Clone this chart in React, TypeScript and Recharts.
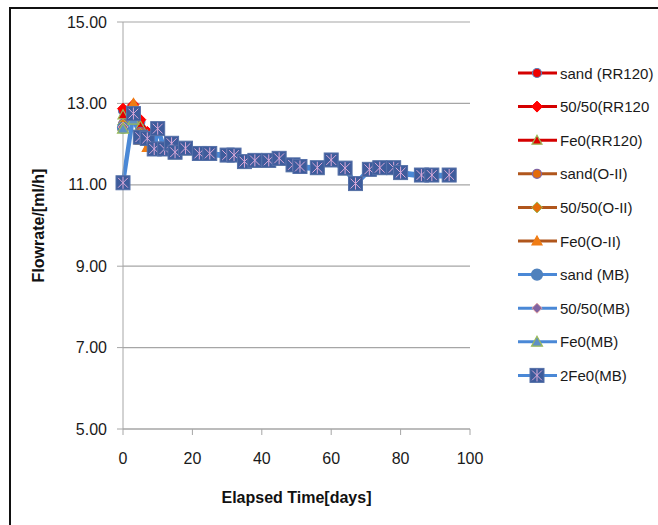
import React from 'react';
import { LineChart, Line, XAxis, YAxis, CartesianGrid, Legend } from 'recharts';

// elapsed time of each measurement
const DAYS = [0, 3, 5, 7, 9, 10, 12, 14, 15, 18, 22, 25, 30, 32, 35, 38, 42, 45, 49, 51, 56, 60, 64, 67, 71, 74, 78, 80, 86, 89, 94];

// flowrate [ml/h] per column
const SAND_RR120 = [12.82, 12.92, 12.55, 12.28, 11.90, 12.36, 11.88, 12.00, 11.80, 11.89, 11.76, 11.76, 11.72, 11.72, 11.56, 11.60, 11.59, 11.64, 11.48, 11.45, 11.41, 11.60, 11.40, 11.03, 11.37, 11.41, 11.41, 11.30, 11.24, 11.24, 11.25];
const MIX_RR120 = [12.87, 12.97, 12.60, 12.30, 11.90, 12.37, 11.88, 12.01, 11.80, 11.90, 11.77, 11.76, 11.73, 11.72, 11.57, 11.60, 11.60, 11.64, 11.49, 11.45, 11.42, 11.60, 11.41, 11.03, 11.38, 11.42, 11.41, 11.30, 11.24, 11.24, 11.26];
const FE_RR120 = [12.72, 12.90, 12.45, 12.22, 11.88, 12.35, 11.87, 12.00, 11.79, 11.88, 11.76, 11.75, 11.72, 11.71, 11.56, 11.59, 11.59, 11.63, 11.48, 11.44, 11.41, 11.59, 11.40, 11.02, 11.37, 11.41, 11.40, 11.29, 11.23, 11.23, 11.24];
const SAND_OII = [12.50, 12.85, 12.30, 12.18, 11.88, 12.36, 11.88, 12.01, 11.80, 11.89, 11.77, 11.76, 11.72, 11.72, 11.57, 11.60, 11.60, 11.64, 11.49, 11.45, 11.42, 11.61, 11.41, 11.03, 11.38, 11.42, 11.42, 11.30, 11.24, 11.24, 11.24];
const MIX_OII = [12.48, 12.88, 12.25, 12.15, 11.87, 12.37, 11.88, 12.01, 11.80, 11.89, 11.77, 11.76, 11.72, 11.72, 11.57, 11.60, 11.60, 11.64, 11.49, 11.45, 11.42, 11.61, 11.41, 11.03, 11.38, 11.42, 11.42, 11.30, 11.24, 11.24, 11.24];
const FE_OII = [12.45, 13.00, 12.10, 11.92, 11.86, 12.36, 11.87, 12.00, 11.79, 11.88, 11.76, 11.75, 11.72, 11.71, 11.56, 11.59, 11.59, 11.63, 11.48, 11.44, 11.41, 11.60, 11.40, 11.02, 11.37, 11.41, 11.41, 11.29, 11.23, 11.23, 11.23];
const SAND_MB = [12.40, 12.62, 12.17, 12.14, 11.88, 12.38, 11.88, 12.02, 11.80, 11.90, 11.77, 11.77, 11.73, 11.73, 11.57, 11.60, 11.60, 11.65, 11.49, 11.45, 11.42, 11.61, 11.41, 11.03, 11.38, 11.42, 11.42, 11.30, 11.24, 11.24, 11.24];
const MIX_MB = [12.42, 12.65, 12.16, 12.13, 11.87, 12.37, 11.87, 12.01, 11.79, 11.89, 11.76, 11.76, 11.72, 11.72, 11.56, 11.59, 11.59, 11.64, 11.48, 11.44, 11.41, 11.60, 11.40, 11.02, 11.37, 11.41, 11.41, 11.29, 11.23, 11.23, 11.23];
const FE_MB = [12.38, 12.60, 12.12, 12.09, 11.83, 12.33, 11.83, 11.97, 11.75, 11.85, 11.72, 11.72, 11.68, 11.68, 11.52, 11.55, 11.55, 11.60, 11.44, 11.40, 11.37, 11.56, 11.36, 10.98, 11.33, 11.37, 11.37, 11.25, 11.19, 11.19, 11.19];
const FE2_MB = [11.05, 12.75, 12.17, 12.14, 11.88, 12.38, 11.88, 12.02, 11.80, 11.90, 11.77, 11.77, 11.73, 11.73, 11.57, 11.60, 11.60, 11.65, 11.49, 11.45, 11.42, 11.61, 11.41, 11.03, 11.38, 11.42, 11.42, 11.30, 11.24, 11.24, 11.24];

const X_TICKS = [0, 20, 40, 60, 80, 100];
const Y_TICKS = [5, 7, 9, 11, 13, 15];

const RED = '#d40000';
const BROWN = '#b0561c';
const BLUE = '#4a88d6';

type Shape = 'circle' | 'diamond' | 'triangle' | 'starSquare';

const SERIES: { key: string; name: string; values: number[]; line: string; width: number; shape: Shape; fill: string; stroke: string; size: number }[] = [
  { key: 's0', name: 'sand (RR120)', values: SAND_RR120, line: RED, width: 3, shape: 'circle', fill: '#ee0000', stroke: '#5b7fb8', size: 9 },
  { key: 's1', name: '50/50(RR120', values: MIX_RR120, line: RED, width: 3, shape: 'diamond', fill: '#ff0000', stroke: '#ff0000', size: 11 },
  { key: 's2', name: 'Fe0(RR120)', values: FE_RR120, line: RED, width: 3, shape: 'triangle', fill: '#e00000', stroke: '#9bbb59', size: 10 },
  { key: 's3', name: 'sand(O-II)', values: SAND_OII, line: BROWN, width: 3, shape: 'circle', fill: '#e46c0a', stroke: '#8064a2', size: 9 },
  { key: 's4', name: '50/50(O-II)', values: MIX_OII, line: BROWN, width: 3, shape: 'diamond', fill: '#e46c0a', stroke: '#9bbb59', size: 11 },
  { key: 's5', name: 'Fe0(O-II)', values: FE_OII, line: BROWN, width: 3, shape: 'triangle', fill: '#f07c14', stroke: '#f07c14', size: 10 },
  { key: 's6', name: 'sand (MB)', values: SAND_MB, line: BLUE, width: 3, shape: 'circle', fill: '#4f81bd', stroke: '#4f81bd', size: 11 },
  { key: 's7', name: '50/50(MB)', values: MIX_MB, line: BLUE, width: 3, shape: 'diamond', fill: '#8064a2', stroke: '#e0a0a0', size: 10 },
  { key: 's8', name: 'Fe0(MB)', values: FE_MB, line: BLUE, width: 3, shape: 'triangle', fill: '#5f8fc4', stroke: '#9bbb59', size: 11 },
  { key: 's9', name: '2Fe0(MB)', values: FE2_MB, line: BLUE, width: 4.5, shape: 'starSquare', fill: '#3e5c9c', stroke: '#d9a8d8', size: 14 },
];

const rows = DAYS.map((day, i) => {
  const row: Record<string, number> = { day };
  SERIES.forEach(s => { row[s.key] = s.values[i]; });
  return row;
});

const Marker = ({ shape, cx, cy, size, fill, stroke }: { shape: Shape; cx: number; cy: number; size: number; fill: string; stroke: string }) => {
  const h = size / 2;
  if (shape === 'circle') return <circle cx={cx} cy={cy} r={h} fill={fill} stroke={stroke} strokeWidth={1.2} />;
  if (shape === 'diamond') {
    return <polygon points={`${cx},${cy - h} ${cx + h},${cy} ${cx},${cy + h} ${cx - h},${cy}`} fill={fill} stroke={stroke} strokeWidth={1} />;
  }
  if (shape === 'triangle') {
    return <polygon points={`${cx},${cy - h} ${cx + h},${cy + h * 0.8} ${cx - h},${cy + h * 0.8}`} fill={fill} stroke={stroke} strokeWidth={1.2} />;
  }
  const a = h * 0.7;
  return (
    <g>
      <rect x={cx - h} y={cy - h} width={size} height={size} fill={fill} stroke="#5570a8" strokeWidth={1} />
      <path
        d={`M${cx},${cy - h + 1}V${cy + h - 1}M${cx - a},${cy - a}L${cx + a},${cy + a}M${cx + a},${cy - a}L${cx - a},${cy + a}`}
        stroke={stroke}
        strokeWidth={1}
        fill="none"
      />
    </g>
  );
};

const LegendBox = () => (
  <svg width={158} height={350} style={{ display: 'block', overflow: 'hidden' }}>
    {SERIES.map((s, i) => {
      const y = 23 + i * 33.6;
      return (
        <g key={s.key}>
          <line x1={18} x2={57} y1={y} y2={y} stroke={s.line} strokeWidth={3} />
          <Marker shape={s.shape} cx={37} cy={y} size={s.size} fill={s.fill} stroke={s.stroke} />
          <text x={60} y={y + 5.5} fontSize={15} fill="#1a1a1a">{s.name}</text>
        </g>
      );
    })}
  </svg>
);

export default function App() {
  return (
    <div style={{ position: 'absolute', left: 0, top: 0, width: 658, height: 525, overflow: 'hidden', background: '#fff', fontFamily: '"Liberation Sans", Arial, sans-serif' }}>
      <div style={{ position: 'absolute', left: 9, top: 7, width: 700, height: 600, border: '2px solid #111' }} />
      <LineChart width={658} height={525} data={rows} margin={{ top: 22, right: 188, bottom: 0, left: 0 }} style={{ position: 'absolute', left: 0, top: 0 }}>
        <CartesianGrid vertical={false} stroke="#a6a6a6" strokeWidth={1.2} />
        <XAxis
          type="number"
          dataKey="day"
          domain={[0, 100]}
          ticks={X_TICKS}
          height={96}
          tickSize={6}
          tickMargin={18}
          stroke="#a6a6a6"
          tick={{ fill: '#1a1a1a', fontSize: 16 }}
          label={{ value: 'Elapsed Time[days]', position: 'insideBottom', offset: 22, style: { fontWeight: 'bold', fontSize: 16, fill: '#111' } }}
        />
        <YAxis
          type="number"
          domain={[5, 15]}
          ticks={Y_TICKS}
          width={123}
          tickSize={6}
          tickMargin={10}
          stroke="#a6a6a6"
          tickFormatter={(v: number) => v.toFixed(2)}
          tick={{ fill: '#1a1a1a', fontSize: 16 }}
          label={{ value: 'Flowrate/[ml/h]', angle: -90, position: 'insideLeft', offset: 38, style: { textAnchor: 'middle', fontWeight: 'bold', fontSize: 16, fill: '#111' } }}
        />
        <Legend layout="vertical" align="center" verticalAlign="middle" wrapperStyle={{ left: 500, top: 50, width: 158, height: 350 }} content={() => <LegendBox />} />
        {SERIES.map(s => (
          <Line
            key={s.key}
            type="linear"
            dataKey={s.key}
            name={s.name}
            stroke={s.line}
            strokeWidth={s.width}
            isAnimationActive={false}
            activeDot={false}
            dot={(p: any) => <Marker key={`${s.key}-${p.index}`} shape={s.shape} cx={p.cx} cy={p.cy} size={s.size} fill={s.fill} stroke={s.stroke} />}
          />
        ))}
      </LineChart>
    </div>
  );
}
